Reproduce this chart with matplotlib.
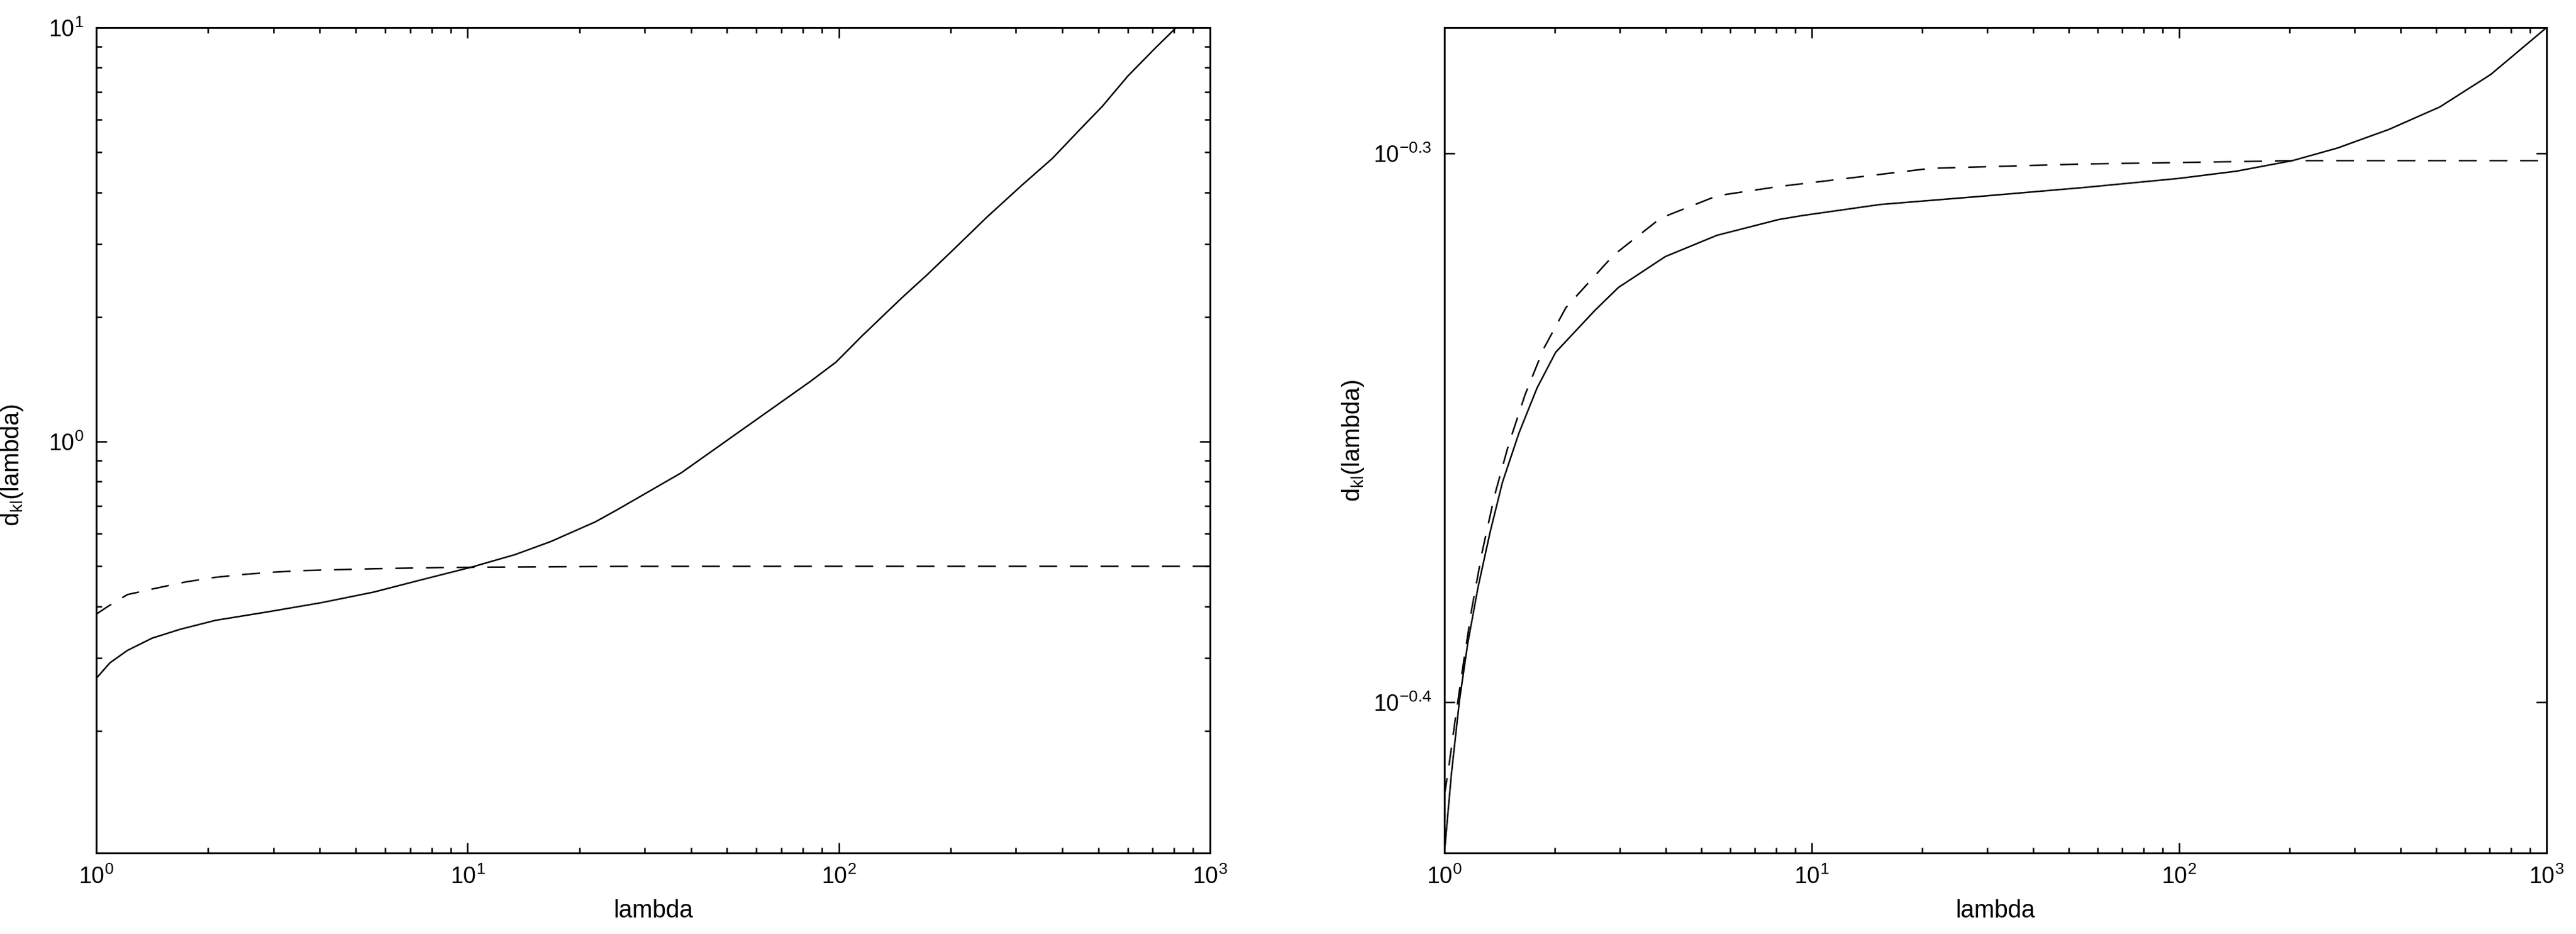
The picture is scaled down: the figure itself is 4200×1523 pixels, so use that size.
import numpy as np
import matplotlib
matplotlib.use('Agg')
import matplotlib.pyplot as plt
from matplotlib.ticker import FixedLocator, NullFormatter, NullLocator

plt.rcParams['font.family'] = ['Liberation Sans', 'DejaVu Sans']
plt.rcParams['mathtext.fontset'] = 'custom'
plt.rcParams['mathtext.rm'] = 'Liberation Sans'
plt.rcParams['mathtext.it'] = 'Liberation Sans'
plt.rcParams['mathtext.bf'] = 'Liberation Sans'
plt.rcParams['lines.scale_dashes'] = False

# left panel, values
left_solid_x = [1, 1.088, 1.213, 1.413, 1.683, 2.094, 2.905, 4.03, 5.59, 7.76, 10.3,
                13.4, 16.8, 22.1, 25.2, 37.6, 56.1, 83.7, 98.2, 115.5, 148, 173,
                202, 251, 312, 376, 439, 513, 599, 707, 801, 1000]
left_solid_y = [0.268, 0.292, 0.313, 0.335, 0.352, 0.370, 0.388, 0.408, 0.433, 0.467,
                0.498, 0.533, 0.574, 0.640, 0.683, 0.840, 1.083, 1.396, 1.555, 1.80,
                2.227, 2.53, 2.89, 3.49, 4.17, 4.83, 5.59, 6.46, 7.62, 8.87, 9.90, 12.2]
left_dash_x = [1, 1.076, 1.213, 1.46, 1.74, 2.094, 2.52, 3.03, 3.61, 5.59, 8.65,
               25.8, 100, 1000]
left_dash_y = [0.383, 0.400, 0.427, 0.443, 0.458, 0.470, 0.478, 0.484, 0.488, 0.493,
               0.4965, 0.4995, 0.4997, 0.4997]

# right panel
right_solid_x = [1, 1.045, 1.0996, 1.157, 1.234, 1.333, 1.439, 1.595, 1.789, 2.009,
                 2.563, 2.976, 3.996, 5.526, 8.12, 9.39, 15.37, 29.08, 55.0, 99.9,
                 143.2, 203.3, 270.8, 372.4, 512.4, 704.7, 1000]
right_solid_y = [0.3737, 0.3863, 0.3985, 0.4080, 0.4177, 0.4277, 0.4366, 0.4457, 0.4543,
                 0.4611, 0.4692, 0.4738, 0.4800, 0.4843, 0.4875, 0.4883, 0.4906, 0.4923,
                 0.4941, 0.4960, 0.4975, 0.4997, 0.5024, 0.5063, 0.5111, 0.5181, 0.5284]
right_dash_x = [1, 1.031, 1.072, 1.128, 1.187, 1.266, 1.367, 1.496, 1.657, 1.860, 2.141,
                2.89, 3.88, 5.53, 8.12, 21.1, 55, 100, 203, 1000]
right_dash_y = [0.3828, 0.3880, 0.3955, 0.4049, 0.4140, 0.4239, 0.4340, 0.4436, 0.4529,
                0.4617, 0.4698, 0.4803, 0.4878, 0.4924, 0.4943, 0.4981, 0.4990, 0.4993,
                0.4997, 0.4997]

x_ticks = [1, 10, 100, 1000]
x_labels = ['$10^{0}$', '$10^{1}$', '$10^{2}$', '$10^{3}$']
left_yticks = [1, 10]
left_ylabels = ['$10^{0}$', '$10^{1}$']
right_yticks = [10 ** -0.4, 10 ** -0.3]
right_ylabels = ['$10^{-0.4}$', '$10^{-0.3}$']

fig = plt.figure(figsize=(14, 5.0767), dpi=300)
ax1 = fig.add_axes([0.03738, 0.08667, 0.43238, 0.88378])
ax2 = fig.add_axes([0.56071, 0.08667, 0.42786, 0.88378])

lw = 0.6
ax1.plot(left_solid_x, left_solid_y, 'k-', lw=lw)
ax1.plot(left_dash_x, left_dash_y, 'k--', lw=lw, dashes=(7, 5))
ax2.plot(right_solid_x, right_solid_y, 'k-', lw=lw)
ax2.plot(right_dash_x, right_dash_y, 'k--', lw=lw, dashes=(7, 5))

minor_x = [m * 10 ** d for d in range(3) for m in range(2, 10)]

for ax in (ax1, ax2):
    ax.set_xscale('log')
    ax.set_yscale('log')
    ax.set_xlim(1, 1000)
    ax.xaxis.set_major_locator(FixedLocator(x_ticks))
    ax.set_xticklabels(x_labels)
    ax.xaxis.set_minor_locator(FixedLocator(minor_x))
    ax.xaxis.set_minor_formatter(NullFormatter())
    ax.tick_params(which='both', direction='in', top=True, right=True,
                   labelsize=9, width=0.6, pad=5)
    ax.tick_params(which='major', length=4)
    ax.tick_params(which='minor', length=2.2)
    for s in ax.spines.values():
        s.set_linewidth(0.7)
    ax.set_xlabel('lambda', fontsize=9.5)
    ax.xaxis.set_label_coords(0.5, -0.056)

ax1.set_ylim(0.1014, 10)
ax1.yaxis.set_major_locator(FixedLocator(left_yticks))
ax1.set_yticklabels(left_ylabels)
ax1.yaxis.set_minor_locator(FixedLocator([m * 10 ** d for d in (-1, 0) for m in range(2, 10)]))
ax1.yaxis.set_minor_formatter(NullFormatter())
ax1.set_ylabel('d$_{\\mathrm{kl}}$(lambda)', fontsize=9.5)
ax1.yaxis.set_label_coords(-0.064, 0.47)

ax2.set_ylim(0.3737, 0.5284)
ax2.yaxis.set_major_locator(FixedLocator(right_yticks))
ax2.set_yticklabels(right_ylabels)
ax2.yaxis.set_minor_locator(NullLocator())
ax2.yaxis.set_minor_formatter(NullFormatter())
ax2.set_ylabel('d$_{\\mathrm{kl}}$(lambda)', fontsize=9.5)
ax2.yaxis.set_label_coords(-0.071, 0.5)

fig.savefig('out.png', dpi=300)
